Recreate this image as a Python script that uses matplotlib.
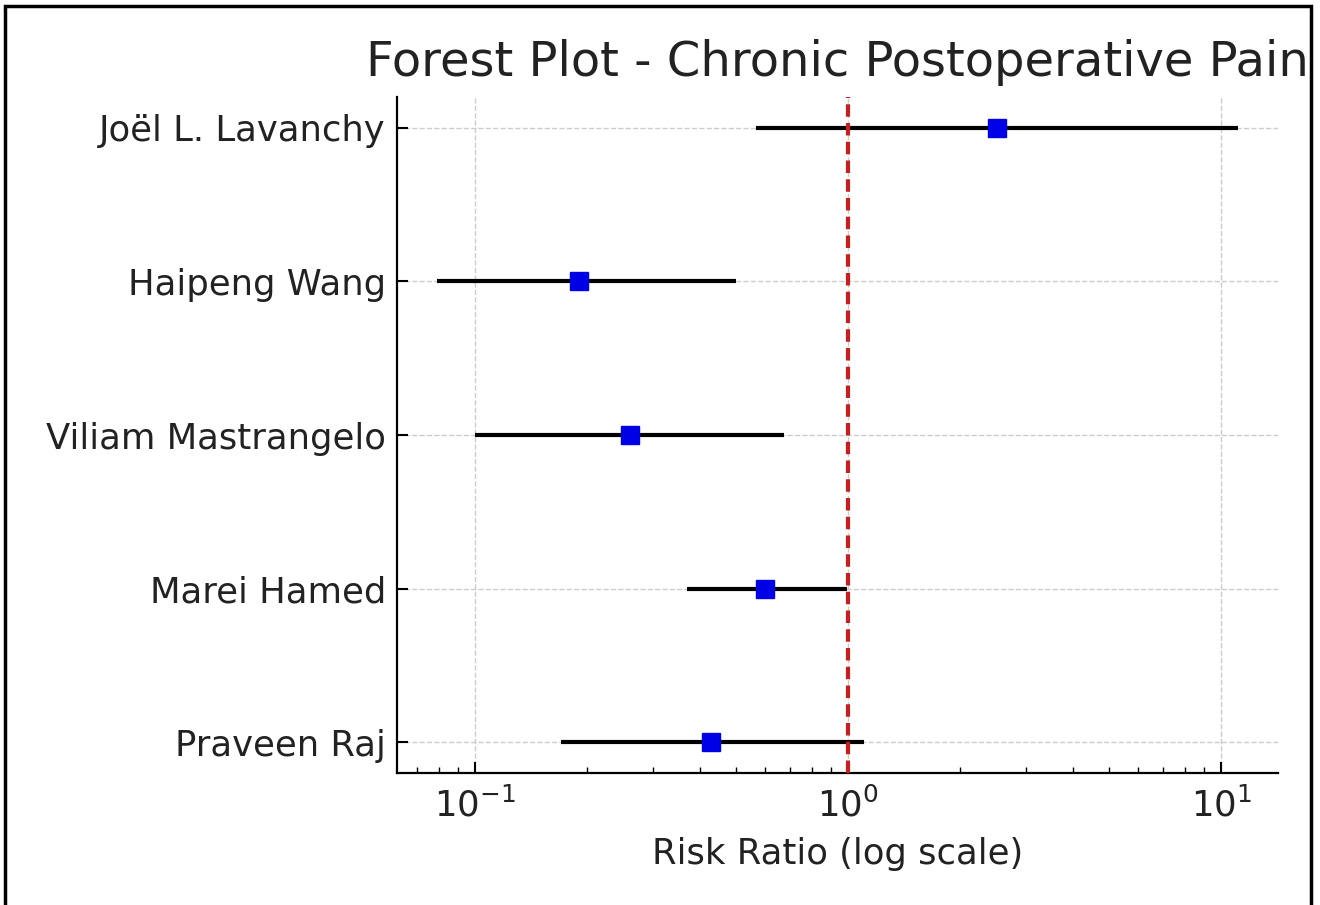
import numpy as np
import matplotlib as mpl
mpl.use('Agg')
import matplotlib.pyplot as plt
from matplotlib.patches import Rectangle

# study data
studies = ['Joël L. Lavanchy', 'Haipeng Wang', 'Viliam Mastrangelo', 'Marei Hamed', 'Praveen Raj']
rr = [2.51, 0.19, 0.26, 0.60, 0.43]
ci_low = [0.565, 0.079, 0.10, 0.37, 0.17]
ci_high = [11.1, 0.50, 0.675, 0.99, 1.10]

fig = plt.figure(figsize=(13.2, 9.05), dpi=100)
ax = fig.add_axes([397/1320, 1-773/905, (1278-397)/1320, (773-97)/905])

ypos = np.arange(len(studies))[::-1]
for y, lo, hi in zip(ypos, ci_low, ci_high):
    ax.plot([lo, hi], [y, y], color='black', lw=3, solid_capstyle='butt', zorder=3)
ax.plot(rr, ypos, 's', color='#0000e6', markersize=13, zorder=4)
ax.axvline(1, color='#c81e1e', ls='--', lw=3, dashes=(3, 1.5), zorder=5)

ax.set_xscale('log')
ax.set_yticks(ypos)
ax.set_yticklabels(studies)
ax.set_xlabel('Risk Ratio (log scale)', fontsize=25.5, color='#222222', labelpad=10)
ax.set_title('Forest Plot - Chronic Postoperative Pain', fontsize=34.6, color='#222222', pad=15)

ax.grid(True, which='major', ls='--', color='#cccccc', lw=1)
ax.spines['top'].set_visible(False)
ax.spines['right'].set_visible(False)
for s in ['left', 'bottom']:
    ax.spines[s].set_linewidth(1.6)
ax.tick_params(axis='both', which='major', direction='in', length=8, width=1.5,
               labelsize=25.5, labelcolor='#222222')
ax.tick_params(axis='x', which='minor', direction='in', length=4, width=1)
ax.tick_params(axis='y', pad=8)
ax.tick_params(axis='x', pad=10)

# screenshot frame
fig.patches.append(Rectangle((5/1320, -0.02), 1306/1320, 1.02 - 6/905, transform=fig.transFigure,
                             fill=False, edgecolor='black', lw=2.5))

fig.savefig('out.png', dpi=100)
